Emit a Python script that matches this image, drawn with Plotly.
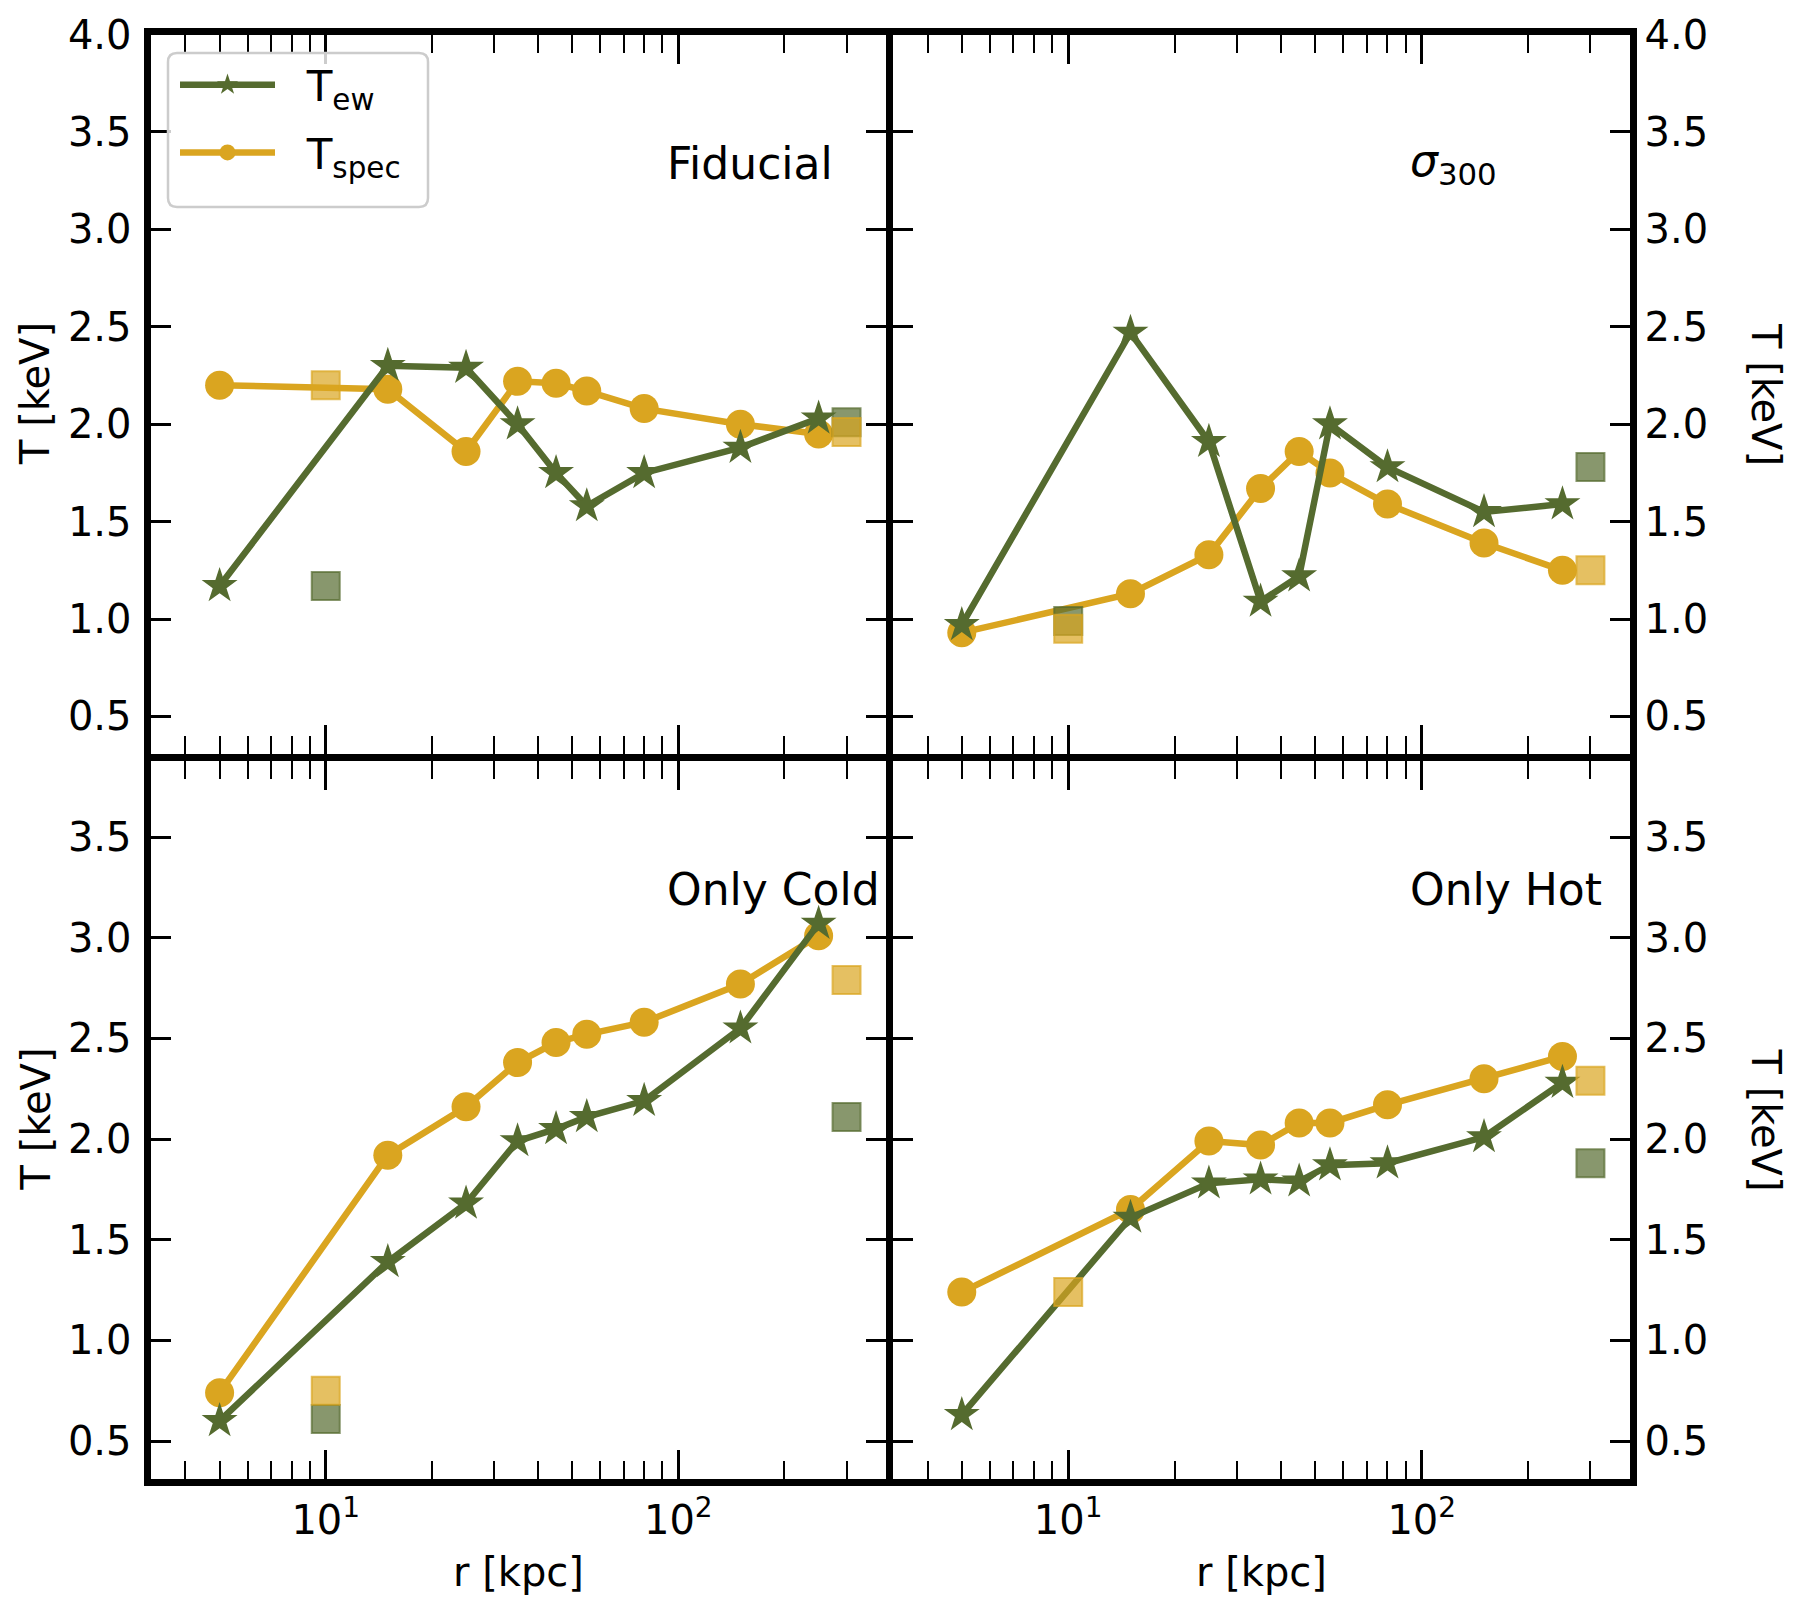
import plotly.graph_objects as go

# ---------------- data ----------------
r = [5, 15, 25, 35, 45, 55, 80, 150, 250]
r_sq = [10, 300]

fid_ew = [1.17, 2.30, 2.29, 2.00, 1.75, 1.58, 1.75, 1.88, 2.03]
fid_spec = [2.20, 2.18, 1.86, 2.22, 2.21, 2.17, 2.08, 2.00, 1.95]
fid_sq_ew = [1.17, 2.01]
fid_sq_spec = [2.20, 1.96]

sig_ew = [0.97, 2.47, 1.91, 1.09, 1.22, 2.00, 1.78, 1.55, 1.59]
sig_spec = [0.93, 1.13, 1.33, 1.67, 1.86, 1.75, 1.59, 1.39, 1.25]
sig_sq_ew = [0.99, 1.78]
sig_sq_spec = [0.95, 1.25]

cold_ew = [0.60, 1.39, 1.68, 1.99, 2.05, 2.11, 2.19, 2.55, 3.07]
cold_spec = [0.74, 1.92, 2.16, 2.38, 2.48, 2.52, 2.58, 2.77, 3.01]
cold_sq_ew = [0.61, 2.11]
cold_sq_spec = [0.75, 2.79]

hot_ew = [0.63, 1.61, 1.78, 1.80, 1.79, 1.87, 1.88, 2.01, 2.28]
hot_spec = [1.24, 1.65, 1.99, 1.97, 2.08, 2.08, 2.17, 2.30, 2.41]
hot_sq_ew = [None, 1.88]
hot_sq_spec = [1.24, 2.29]

panel_names = ["Fiducial", "<i>σ</i><sub>300</sub>", "Only Cold", "Only Hot"]
y_ticks = [0.5, 1.0, 1.5, 2.0, 2.5, 3.0, 3.5, 4.0]
x_ticks = [10, 100]
x_ticktext = ["10<sup>1</sup>", "10<sup>2</sup>"]

GREEN = "#556b2f"
GOLD = "#daa520"
GREEN_A = "rgba(85,107,47,0.7)"
GOLD_A = "rgba(218,165,32,0.7)"

W, H = 1806, 1602
FONT = "DejaVu Sans"
FS = 40
LW = 7  # frame line width

# panel geometry (pixels, inner plot-area edges; axis lines drawn outside)
xl, xm1, xm2, xr = 150.5, 885.5, 892.5, 1629.5
yt, ym1, ym2, yb = 34.5, 753.5, 760.5, 1478.5


def fx(px):
    return px / W


def fy(py):
    return 1 - py / H


fig = go.Figure()

panels = [
    (fid_ew, fid_spec, fid_sq_ew, fid_sq_spec),
    (sig_ew, sig_spec, sig_sq_ew, sig_sq_spec),
    (cold_ew, cold_spec, cold_sq_ew, cold_sq_spec),
    (hot_ew, hot_spec, hot_sq_ew, hot_sq_spec),
]

for i, (ew, spec, sq_ew, sq_spec) in enumerate(panels):
    k = "" if i == 0 else str(i + 1)
    xa, ya = "x" + k, "y" + k
    show = i == 0
    fig.add_trace(go.Scatter(
        x=r, y=spec, xaxis=xa, yaxis=ya, mode="lines+markers",
        name="\u00a0\u00a0T<sub>spec</sub>\u00a0", legendrank=2, showlegend=show,
        legendgroup="spec",
        line=dict(color=GOLD, width=6.5),
        marker=dict(symbol="circle", size=29, color=GOLD)))
    fig.add_trace(go.Scatter(
        x=r, y=ew, xaxis=xa, yaxis=ya, mode="lines+markers",
        name="\u00a0\u00a0T<sub>ew</sub>", legendrank=1, showlegend=show,
        legendgroup="ew",
        line=dict(color=GREEN, width=6.5),
        marker=dict(symbol="star", size=27, color=GREEN)))
    fig.add_trace(go.Scatter(
        x=r_sq, y=sq_ew, xaxis=xa, yaxis=ya, mode="markers", showlegend=False,
        marker=dict(symbol="square", size=28, color=GREEN_A,
                    line=dict(color=GREEN_A, width=2))))
    fig.add_trace(go.Scatter(
        x=r_sq, y=sq_spec, xaxis=xa, yaxis=ya, mode="markers", showlegend=False,
        marker=dict(symbol="square", size=28, color=GOLD_A,
                    line=dict(color=GOLD_A, width=2))))

xrange_log = [0.503, 2.5876]


def xaxis(domain, labels, anchor):
    return dict(
        type="log", range=xrange_log, domain=domain, anchor=anchor,
        automargin=False,
        showline=True, linecolor="black", linewidth=LW, mirror="ticks",
        ticks="inside", ticklen=29, tickwidth=3, tickcolor="black",
        tickvals=x_ticks, ticktext=x_ticktext,
        showticklabels=labels, showgrid=False, zeroline=False,
        tickfont=dict(family=FONT, size=FS, color="black"),
        minor=dict(ticks="inside", ticklen=18, tickwidth=2, tickcolor="black",
                   dtick="D1", showgrid=False),
    )


def yaxis(domain, rng, side, anchor):
    return dict(
        range=rng, domain=domain, anchor=anchor, side=side,
        automargin=False,
        showline=True, linecolor="black", linewidth=LW, mirror="ticks",
        ticks="inside", ticklen=20, tickwidth=3, tickcolor="black",
        tickvals=y_ticks, tickformat=".1f", showgrid=False, zeroline=False,
        ticklabelstandoff=4 if side == "left" else 0,
        tickfont=dict(family=FONT, size=FS, color="black"),
    )


top_rng = [0.31, 4.0001]
bot_rng = [0.314, 3.88]

fig.update_layout(
    xaxis=xaxis([fx(xl), fx(xm1)], False, "y"),
    xaxis2=xaxis([fx(xm2), fx(xr)], False, "y2"),
    xaxis3=xaxis([fx(xl), fx(xm1)], True, "y3"),
    xaxis4=xaxis([fx(xm2), fx(xr)], True, "y4"),
    yaxis=yaxis([fy(ym1), fy(yt)], top_rng, "left", "x"),
    yaxis2=yaxis([fy(ym1), fy(yt)], top_rng, "right", "x2"),
    yaxis3=yaxis([fy(yb), fy(ym2)], bot_rng, "left", "x3"),
    yaxis4=yaxis([fy(yb), fy(ym2)], bot_rng, "right", "x4"),
)

annotations = []
# panel labels
for i, name in enumerate(panel_names):
    k = "" if i == 0 else str(i + 1)
    annotations.append(dict(
        text=name, xref="x" + k + " domain", yref="y" + k + " domain",
        x=0.70, y=0.82, xanchor="left", yanchor="middle", showarrow=False,
        font=dict(family=FONT, size=44, color="black")))
# y axis titles
for yc in [(yt + ym1) / 2, (ym2 + yb) / 2]:
    annotations.append(dict(
        text="T [keV]", xref="paper", yref="paper", x=fx(35), y=fy(yc),
        xanchor="center", yanchor="middle", textangle=-90, showarrow=False,
        font=dict(family=FONT, size=FS, color="black")))
    annotations.append(dict(
        text="T [keV]", xref="paper", yref="paper", x=fx(1766), y=fy(yc),
        xanchor="center", yanchor="middle", textangle=90, showarrow=False,
        font=dict(family=FONT, size=FS, color="black")))
# x axis titles
for xc in [(xl + xm1) / 2, (xm2 + xr) / 2]:
    annotations.append(dict(
        text="r [kpc]", xref="paper", yref="paper", x=fx(xc), y=fy(1572),
        xanchor="center", yanchor="middle", showarrow=False,
        font=dict(family=FONT, size=FS, color="black")))

# rounded legend frame (matplotlib-style)
bx0, by0, bx1, by1, rad = 168, 53, 428, 207, 9
rx, ry = rad / W, rad / H
X0, X1, Y0, Y1 = fx(bx0), fx(bx1), fy(by1), fy(by0)
legend_path = (
    f"M {X0 + rx},{Y1} L {X1 - rx},{Y1} Q {X1},{Y1} {X1},{Y1 - ry} "
    f"L {X1},{Y0 + ry} Q {X1},{Y0} {X1 - rx},{Y0} "
    f"L {X0 + rx},{Y0} Q {X0},{Y0} {X0},{Y0 + ry} "
    f"L {X0},{Y1 - ry} Q {X0},{Y1} {X0 + rx},{Y1} Z"
)

fig.update_layout(
    width=W, height=H,
    margin=dict(l=0, r=0, t=0, b=0, autoexpand=False),
    paper_bgcolor="white", plot_bgcolor="white",
    annotations=annotations,
    shapes=[dict(type="path", path=legend_path, xref="paper", yref="paper",
                 fillcolor="rgba(255,255,255,0.8)",
                 line=dict(color="#cccccc", width=2.5), layer="above")],
    showlegend=True,
    legend=dict(
        x=fx(175), y=fy(51), xanchor="left", yanchor="top",
        bgcolor="rgba(0,0,0,0)", borderwidth=0,
        font=dict(family=FONT, size=42, color="black"),
        itemwidth=95, tracegroupgap=10,
    ),
)

fig.write_html("out.html",
               config={"displayModeBar": False},
               post_script="document.body.style.margin='0';document.body.style.overflow='hidden';")
